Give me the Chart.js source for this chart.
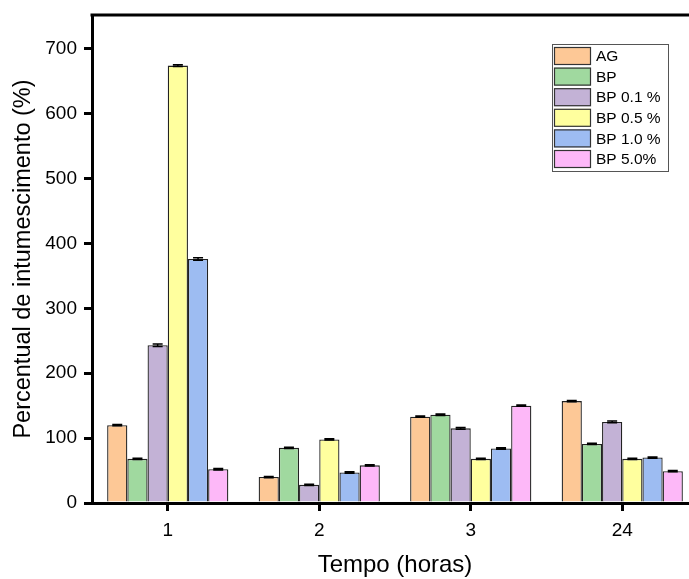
<!DOCTYPE html>
<html><head><meta charset="utf-8">
<script src="https://cdn.jsdelivr.net/npm/chart.js@4/dist/chart.umd.min.js"></script>
<style>html,body{margin:0;padding:0;overflow:hidden;background:#fff;width:689px;height:579px}canvas{display:block}</style>
</head><body>
<canvas id="c" width="700" height="579" style="width:700px;height:579px"></canvas>
<script>
const categories = ['1', '2', '3', '24'];
const seriesNames = ['AG', 'BP', 'BP 0.1 %', 'BP 0.5 %', 'BP 1.0 %', 'BP 5.0%'];
const AG    = [120, 40, 133, 157];
const BP    = [68, 85, 136, 91];
const BP01  = [243, 28, 115, 125];
const BP05  = [674, 98, 68, 68];
const BP10  = [376, 47, 84, 70];
const BP50  = [52, 58, 150, 49];
const errAG   = [1, 1, 1, 1];
const errBP   = [1, 1, 1, 1];
const errBP01 = [2, 1, 1.5, 1.5];
const errBP05 = [1.5, 1, 1, 1];
const errBP10 = [2, 1, 1, 1];
const errBP50 = [1, 1, 1, 1];
const yTicks = [0, 100, 200, 300, 400, 500, 600, 700];
const colors = ['#FDC896', '#A0D99F', '#C3B2D6', '#FFFF9E', '#9DBCF2', '#FDB8F8'];

const values = [AG, BP, BP01, BP05, BP10, BP50];
const errors = [errAG, errBP, errBP01, errBP05, errBP10, errBP50];
const FONT = '"Liberation Sans", Arial, sans-serif';

const datasets = seriesNames.map((n, i) => ({
  label: n, data: values[i], errors: errors[i],
  backgroundColor: colors[i], borderColor: '#222', borderWidth: 1.3,
  categoryPercentage: 0.8, barPercentage: 1.0
}));

const extras = {
  id: 'extras',
  afterDatasetsDraw(chart) {
    const ctx = chart.ctx, ys = chart.scales.y;
    ctx.save();
    chart.data.datasets.forEach((ds, di) => {
      const meta = chart.getDatasetMeta(di);
      meta.data.forEach((bar, j) => {
        const v = ds.data[j], e = ds.errors[j];
        const yt = ys.getPixelForValue(v + e), yb = ys.getPixelForValue(v - e);
        const x = bar.x, hw = 5;
        ctx.strokeStyle = '#000'; ctx.lineWidth = 1.5;
        ctx.beginPath();
        ctx.moveTo(x, yt); ctx.lineTo(x, yb);
        ctx.moveTo(x - hw, yt); ctx.lineTo(x + hw, yt);
        ctx.moveTo(x - hw, yb); ctx.lineTo(x + hw, yb);
        ctx.stroke();
      });
    });
    const a = chart.chartArea;
    ctx.strokeStyle = '#000'; ctx.lineWidth = 3;
    ctx.beginPath(); ctx.moveTo(a.left - 1.5, a.top); ctx.lineTo(a.right + 1.5, a.top);
    ctx.moveTo(a.right, a.top); ctx.lineTo(a.right, a.bottom); ctx.stroke();
    const lx = 552, ly = 44, lw = 116, lh = 127;
    ctx.fillStyle = '#fff'; ctx.fillRect(lx, ly, lw, lh);
    ctx.strokeStyle = '#555'; ctx.lineWidth = 1;
    ctx.strokeRect(lx + 0.5, ly + 0.5, lw, lh);
    ctx.font = '15.5px ' + FONT; ctx.textBaseline = 'middle'; ctx.textAlign = 'left';
    chart.data.datasets.forEach((ds, i) => {
      const sy = 47 + i * 20.6;
      ctx.fillStyle = ds.backgroundColor; ctx.fillRect(554, sy, 37, 18);
      ctx.strokeStyle = '#333'; ctx.lineWidth = 1.2; ctx.strokeRect(554.5, sy + 0.5, 36, 17);
      ctx.fillStyle = '#000'; ctx.fillText(ds.label, 596, sy + 10);
    });
    ctx.restore();
  }
};

new Chart(document.getElementById('c'), {
  type: 'bar',
  data: { labels: categories, datasets },
  options: {
    responsive: false, animation: false,
    layout: { padding: { top: 15, right: 2, left: 0, bottom: 0 } },
    plugins: { legend: { display: false }, tooltip: { enabled: false } },
    scales: {
      x: {
        offset: true,
        grid: { display: true, drawOnChartArea: false, drawTicks: true, offset: false, tickLength: 8, color: '#000', lineWidth: 3 },
        border: { display: true, color: '#000', width: 3 },
        ticks: { color: '#000', font: { family: FONT, size: 19 }, padding: 8 },
        title: { display: true, text: 'Tempo (horas)', color: '#000', font: { family: FONT, size: 24 }, padding: { top: 0, bottom: -1 } },
        afterFit(s) { s.height = 76; }
      },
      y: {
        min: 0, max: 752,
        afterBuildTicks(s) { s.ticks = yTicks.map(v => ({ value: v })); },
        grid: { display: true, drawOnChartArea: false, drawTicks: true, tickLength: 8, color: '#000', lineWidth: 3 },
        border: { display: true, color: '#000', width: 3 },
        ticks: { color: '#000', font: { family: FONT, size: 19, lineHeight: 0.7 }, padding: 7 },
        title: { display: true, text: 'Percentual de intumescimento (%)', color: '#000', font: { family: FONT, size: 23.5 }, padding: { top: 9, bottom: 0 } },
        afterFit(s) { s.width = 92; }
      }
    }
  },
  plugins: [extras]
});
</script>
</body></html>
